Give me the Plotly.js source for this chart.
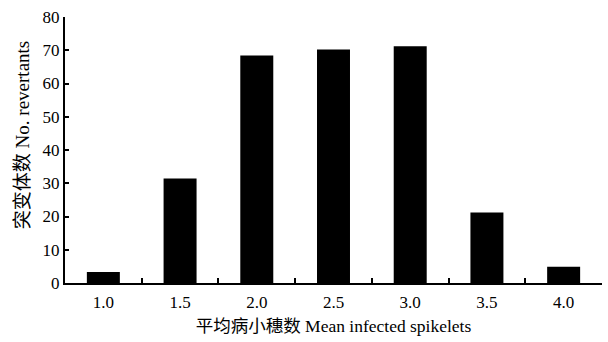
<!DOCTYPE html>
<html>
<head>
<meta charset="utf-8">
<script src="https://cdn.plot.ly/plotly-3.0.1.min.js"></script>
<style>html,body{margin:0;padding:0;background:#fff;}#chart{width:608px;height:342px;}</style>
</head>
<body>
<div id="chart"></div>
<script>
var categories = ["1.0", "1.5", "2.0", "2.5", "3.0", "3.5", "4.0"];
var revertants = [3.3, 31.4, 68.4, 70.2, 71.2, 21.2, 4.9];
var yTicks = [0, 10, 20, 30, 40, 50, 60, 70, 80];
var xTitle = "平均病小穗数 Mean infected spikelets";
var yTitle = "突变体数 No. revertants";

var fontFam = "'Liberation Serif', 'Times New Roman', 'Noto Sans CJK SC', serif";

Plotly.newPlot("chart", [{
  type: "bar",
  x: categories,
  y: revertants,
  width: 0.43,
  marker: {color: "#000000", line: {width: 0}}
}], {
  width: 608, height: 342,
  margin: {l: 65, r: 6, t: 17, b: 59},
  paper_bgcolor: "#ffffff", plot_bgcolor: "#ffffff",
  showlegend: false,
  font: {family: fontFam, color: "#000", size: 17},
  xaxis: {
    type: "category",
    showline: true, linecolor: "#000", linewidth: 2,
    ticks: "inside", tickson: "boundaries", ticklen: 5, tickwidth: 2, tickcolor: "#000",
    showgrid: false, zeroline: false,
    ticklabelstandoff: 3,
    tickfont: {family: fontFam, size: 17, color: "#000"},
    title: {text: xTitle, font: {family: fontFam, size: 17.5, color: "#000"}, standoff: 8}
  },
  yaxis: {
    range: [0, 80],
    tickvals: yTicks,
    showline: true, linecolor: "#000", linewidth: 2,
    ticks: "inside", ticklen: 4, tickwidth: 2, tickcolor: "#000",
    showgrid: false, zeroline: false,
    tickfont: {family: fontFam, size: 17, color: "#000"}
  },
  annotations: [{
    xref: "paper", yref: "paper",
    x: -0.08, y: 0.556,
    xanchor: "center", yanchor: "middle",
    textangle: -90, showarrow: false,
    text: yTitle,
    font: {family: fontFam, size: 19, color: "#000"}
  }],
  bargap: 0.57
}, {displayModeBar: false, staticPlot: true});
</script>
</body>
</html>
